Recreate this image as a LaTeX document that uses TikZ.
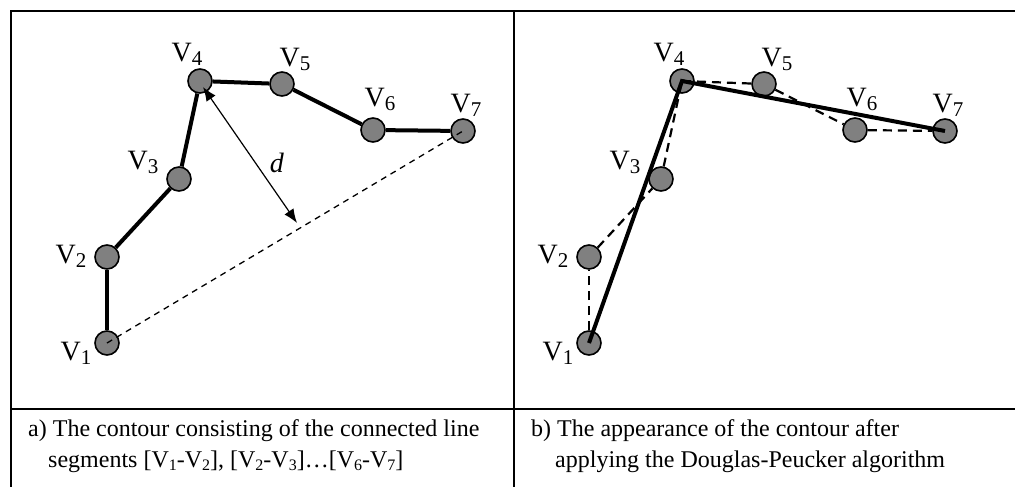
\documentclass[tikz,border=0pt]{standalone}
\usepackage{fontspec}
\setmainfont{Liberation Serif}
\usetikzlibrary{arrows.meta}
\tikzstyle{vertex}=[circle,draw,fill=gray,line width=1.6pt,minimum size=24pt,inner sep=0pt]
\tikzstyle{vlabel}=[font=\fontsize{28}{30}\selectfont,inner sep=0pt]
\tikzstyle{caption}=[font=\fontsize{24}{28}\selectfont,anchor=base west,inner sep=0pt]
\tikzstyle{edge}=[line width=4pt]
\tikzstyle{oldedge}=[line width=2.2pt,dash pattern=on 9pt off 6pt]
\tikzstyle{chord}=[line width=1.3pt,dash pattern=on 6pt off 5pt]
\newcommand{\vtx}[1]{V\raisebox{-4pt}{\fontsize{21}{21}\selectfont #1}}
\newcommand{\csub}[1]{\raisebox{-3pt}{\fontsize{16}{16}\selectfont #1}}

\begin{document}
\begin{tikzpicture}[x=1pt,y=-1pt,>={Latex[length=14pt,width=11pt]}]
    \useasboundingbox (0,0) rectangle (1015,487);
    % table frame
    \draw[line width=2.2pt] (11,500) -- (11,11) -- (1030,11);
    \draw[line width=2.2pt] (514,11) -- (514,500);
    \draw[line width=2.2pt] (11,409) -- (1030,409);
    % a) original contour
    \node[vertex] (a1) at (107,343) {};
    \node[vertex] (a2) at (107,257) {};
    \node[vertex] (a3) at (179,179) {};
    \node[vertex] (a4) at (200,81) {};
    \node[vertex] (a5) at (282,84) {};
    \node[vertex] (a6) at (373,130) {};
    \node[vertex] (a7) at (463,131) {};
    \draw[edge] (a1) -- (a2);
    \draw[edge] (a2) -- (a3);
    \draw[edge] (a3) -- (a4);
    \draw[edge] (a4) -- (a5);
    \draw[edge] (a5) -- (a6);
    \draw[edge] (a6) -- (a7);
    \draw[chord] (a1.center) -- (a7.center);
    \coordinate (dtop) at (203,87);
    \coordinate (dbot) at (297,223);
    \draw[<->,line width=1.2pt] (dtop) -- (dbot);
    \node[vlabel] (dlab) at (277,163) {\textit{d}};
    \node[vlabel] (la1) at ([shift={(-31,10)}]a1) {\vtx{1}};
    \node[vlabel] (la2) at ([shift={(-36,-1)}]a2) {\vtx{2}};
    \node[vlabel] (la3) at ([shift={(-36,-17)}]a3) {\vtx{3}};
    \node[vlabel] (la4) at ([shift={(-13,-27)}]a4) {\vtx{4}};
    \node[vlabel] (la5) at ([shift={(13,-25)}]a5) {\vtx{5}};
    \node[vlabel] (la6) at ([shift={(7,-31)}]a6) {\vtx{6}};
    \node[vlabel] (la7) at ([shift={(3,-26)}]a7) {\vtx{7}};
    % b) simplified contour
    \node[vertex] (b1) at (589,343) {};
    \node[vertex] (b2) at (589,257) {};
    \node[vertex] (b3) at (661,179) {};
    \node[vertex] (b4) at (682,81) {};
    \node[vertex] (b5) at (764,84) {};
    \node[vertex] (b6) at (855,130) {};
    \node[vertex] (b7) at (945,131) {};
    \draw[oldedge] (b1) -- (b2);
    \draw[oldedge] (b2) -- (b3);
    \draw[oldedge] (b3) -- (b4.center);
    \draw[oldedge] (b4.center) -- (b5);
    \draw[oldedge] (b5) -- (b6);
    \draw[oldedge] (b6) -- (b7);
    \draw[edge] (b1.center) -- (b4.center) -- (b7.center);
    \node[vlabel] (lb1) at ([shift={(-31,10)}]b1) {\vtx{1}};
    \node[vlabel] (lb2) at ([shift={(-36,-1)}]b2) {\vtx{2}};
    \node[vlabel] (lb3) at ([shift={(-36,-17)}]b3) {\vtx{3}};
    \node[vlabel] (lb4) at ([shift={(-13,-27)}]b4) {\vtx{4}};
    \node[vlabel] (lb5) at ([shift={(13,-25)}]b5) {\vtx{5}};
    \node[vlabel] (lb6) at ([shift={(7,-31)}]b6) {\vtx{6}};
    \node[vlabel] (lb7) at ([shift={(3,-26)}]b7) {\vtx{7}};
    % captions
    \node[caption] (capa1) at (28,436) {a) The contour consisting of the connected line};
    \node[caption] (capa2) at (48,467) {segments [V\csub{1}-V\csub{2}], [V\csub{2}-V\csub{3}]…[V\csub{6}-V\csub{7}]};
    \node[caption] (capb1) at (531,436) {b) The appearance of the contour after};
    \node[caption] (capb2) at (555,467) {applying the Douglas-Peucker algorithm};
\end{tikzpicture}
\end{document}
